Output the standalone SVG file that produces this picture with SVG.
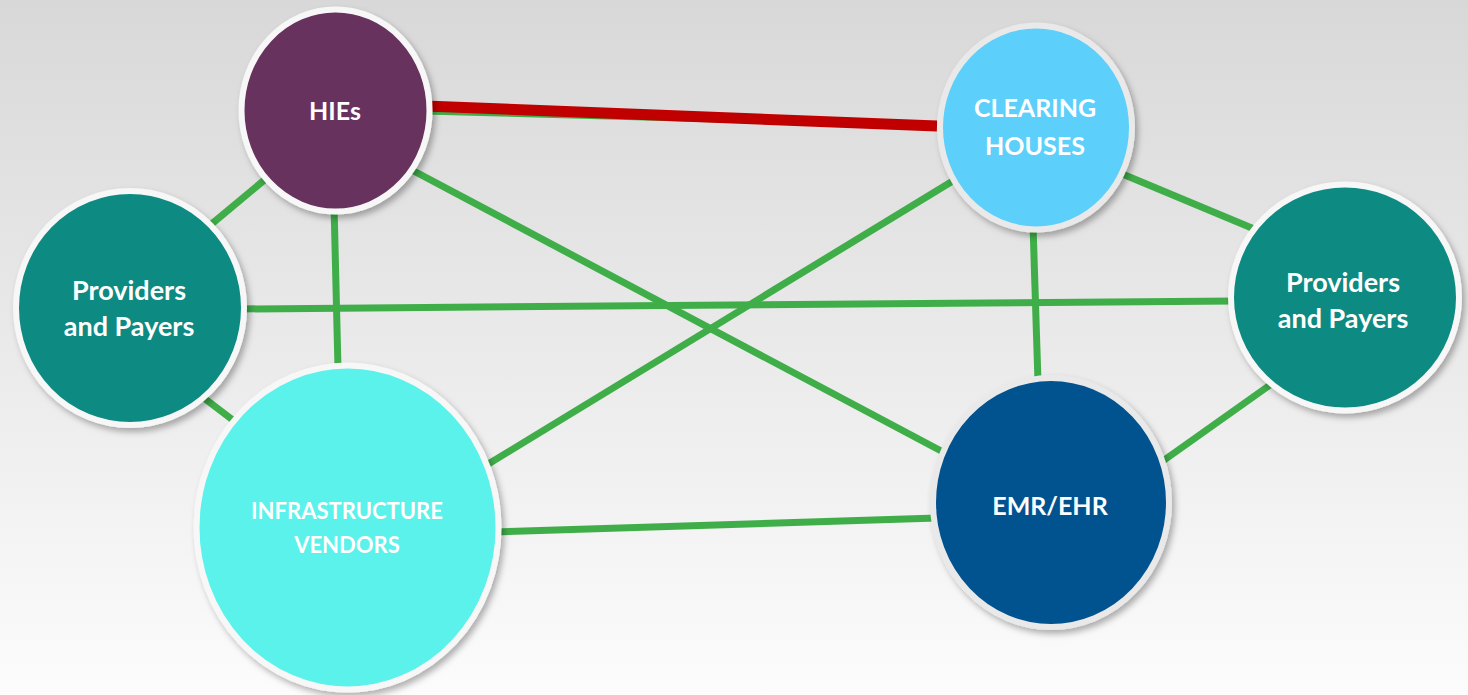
<svg xmlns="http://www.w3.org/2000/svg" width="1468" height="695" viewBox="0 0 1468 695">
<defs>
<linearGradient id="bg" x1="0" y1="0" x2="0" y2="1">
<stop offset="0" stop-color="#d8d8d8"/>
<stop offset="1" stop-color="#fcfcfc"/>
</linearGradient>
<filter id="sh" x="-20%" y="-20%" width="140%" height="140%">
<feDropShadow dx="3" dy="4" stdDeviation="3" flood-color="#000" flood-opacity="0.3"/>
</filter>
</defs>
<style>
.g{stroke:#3fae49;stroke-width:7;fill:none}
.r{stroke:#c00000;stroke-width:11;fill:none}
.n{stroke:#f7f7f7;stroke-width:6;filter:url(#sh)}
.ng{stroke:#e9e9e9;stroke-width:6;filter:url(#sh)}
.t{font-family:Lato,"Open Sans","Liberation Sans",sans-serif;font-weight:bold;fill:#fff;text-anchor:middle}
</style>
<rect width="1468" height="695" fill="url(#bg)"/>
<g id="connectors">
<line class="g" x1="425" y1="111" x2="935" y2="125"/>
<line class="r" x1="425" y1="106" x2="937" y2="126"/>
<line class="g" x1="268" y1="177" x2="208" y2="227"/>
<line class="g" x1="334" y1="205" x2="338" y2="368"/>
<line class="g" x1="410" y1="169" x2="945" y2="453"/>
<line class="g" x1="240" y1="309" x2="1235" y2="301"/>
<line class="g" x1="200" y1="395" x2="238" y2="424"/>
<line class="g" x1="956" y1="179" x2="485" y2="466"/>
<line class="g" x1="1033" y1="225" x2="1038" y2="382"/>
<line class="g" x1="1120" y1="173" x2="1259" y2="231"/>
<line class="g" x1="1270" y1="385" x2="1160" y2="463"/>
<line class="g" x1="495" y1="532" x2="937" y2="518"/>
</g>
<g id="node-hies">
<ellipse class="n" cx="335.5" cy="110.5" rx="94" ry="101" fill="#68305f"/>
<text class="t" x="335" y="120" font-size="25">HIEs</text>
</g>
<g id="node-clearing">
<ellipse class="ng" cx="1036" cy="127.5" rx="96" ry="102" fill="#5bcffb"/>
<text class="t" x="1035" y="117" font-size="25">CLEARING</text>
<text class="t" x="1035" y="155" font-size="25">HOUSES</text>
</g>
<g id="node-providers-left">
<ellipse class="n" cx="130" cy="308" rx="114" ry="117" fill="#0e8a82"/>
<text class="t" x="129" y="300" font-size="27">Providers</text>
<text class="t" x="129" y="336" font-size="27">and Payers</text>
</g>
<g id="node-providers-right">
<ellipse class="n" cx="1345" cy="297.5" rx="114" ry="113" fill="#0e8a82"/>
<text class="t" x="1343" y="292" font-size="27">Providers</text>
<text class="t" x="1343" y="328" font-size="27">and Payers</text>
</g>
<g id="node-infra">
<ellipse class="n" cx="347.5" cy="527.5" rx="151" ry="162" fill="#5af2eb"/>
<text class="t" x="347" y="519" font-size="22">INFRASTRUCTURE</text>
<text class="t" x="347" y="553" font-size="22">VENDORS</text>
</g>
<g id="node-emr">
<ellipse class="ng" cx="1051" cy="502.5" rx="118" ry="124.5" fill="#04528e"/>
<text class="t" x="1050" y="515" font-size="25">EMR/EHR</text>
</g>
</svg>
